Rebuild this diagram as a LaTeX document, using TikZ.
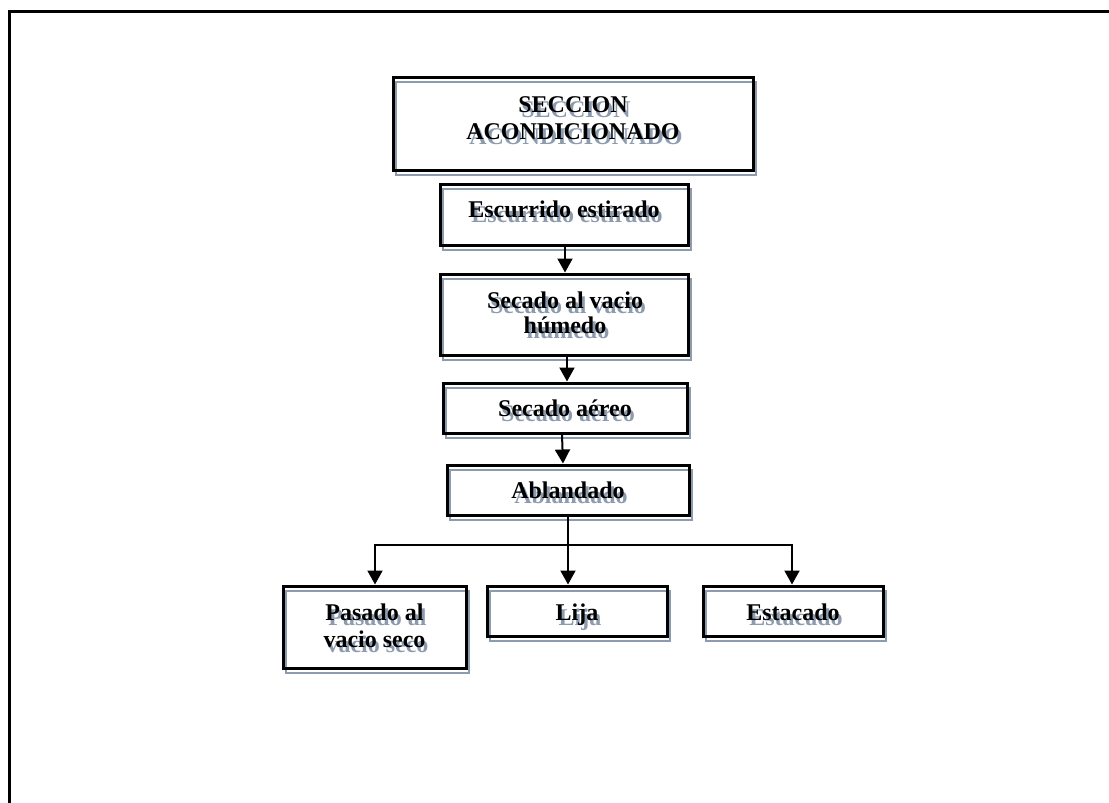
\documentclass[tikz,border=0pt]{standalone}
\usepackage{fontspec}
\setmainfont{Liberation Serif}
\usetikzlibrary{arrows.meta,calc}
\definecolor{shadowc}{RGB}{141,155,175}
% text with a grey offset shadow behind it (the shadow takes no room)
\newcommand\sht[1]{\rlap{\kern3pt\raisebox{-5pt}[0pt][0pt]{\textcolor{shadowc}{#1}}}#1}
\tikzset{
  stepbox/.style={draw=black, line width=3pt, inner sep=0pt,
    preaction={draw=shadowc, line width=2.6pt,
      transform canvas={shift={(3pt,-5pt)}}}},
  boxtext/.style={anchor=base, inner sep=0pt,
    font=\bfseries\fontsize{24}{26}\selectfont},
  flow/.style={line width=2pt, -{Triangle[width=15pt,length=14pt]}},
  link/.style={line width=2pt},
  frame/.style={line width=3pt, line join=miter}
}
\begin{document}
\begin{tikzpicture}[x=1pt,y=-1pt]
\useasboundingbox (0,0) rectangle (1109,803);
\fill[white] (0,0) rectangle (1109,803);
% page frame
\coordinate (fr) at (1109,11);
\coordinate (fc) at (9,11);
\coordinate (fb) at (9,803);
\draw[frame] (fr) -- (fc) -- (fb);

% boxes
\node[stepbox, minimum width=360pt, minimum height=93pt] (title) at (573,123.5) {};
\node[stepbox, minimum width=248pt, minimum height=61pt] (esc) at (564,214.5) {};
\node[stepbox, minimum width=248pt, minimum height=81pt] (vac) at (564,314.5) {};
\node[stepbox, minimum width=244pt, minimum height=50pt] (aer) at (565,408) {};
\node[stepbox, minimum width=242pt, minimum height=50pt] (abl) at (568,490) {};
\node[stepbox, minimum width=183pt, minimum height=82pt] (pas) at (374.5,627) {};
\node[stepbox, minimum width=180pt, minimum height=50pt] (lij) at (577,611) {};
\node[stepbox, minimum width=180pt, minimum height=50pt] (est) at (793,611) {};

% box texts, placed on their baselines
\node[boxtext] (title-a) at (573,112) {\sht{SECCION}};
\node[boxtext] (title-b) at (573,139) {\sht{ACONDICIONADO}};
\node[boxtext] (esc-a) at (564,217) {\sht{Escurrido estirado}};
\node[boxtext] (vac-a) at (565,308) {\sht{Secado al vacio}};
\node[boxtext] (vac-b) at (565,333) {\sht{húmedo}};
\node[boxtext] (aer-a) at (565,416) {\sht{Secado aéreo}};
\node[boxtext] (abl-a) at (568,498) {\sht{Ablandado}};
\node[boxtext] (pas-a) at (374.5,620) {\sht{Pasado al}};
\node[boxtext] (pas-b) at (374.5,647) {\sht{vacio seco}};
\node[boxtext] (lij-a) at (577,620) {\sht{Lija}};
\node[boxtext] (est-a) at (793,620) {\sht{Estacado}};

% straight chain
\draw[flow] ($(esc.south)+(1,0)$) -- ($(vac.north)+(1,0)$);
\draw[flow] ($(vac.south)+(3,0)$) -- ($(aer.north)+(2,0)$);
\draw[flow] ($(aer.south)+(-3,0)$) -- ($(abl.north)+(-5,0)$);

% branching
\coordinate (hub) at (568,545);
\coordinate (hl) at (375,545);
\coordinate (hr) at (792,545);
\draw[link] (abl.south) -- (hub);
\draw[link, line cap=rect] (hl) -- (hr);
\draw[flow] (hl) -- (hl |- pas.north);
\draw[flow] (hub) -- (hub |- lij.north);
\draw[flow] (hr) -- (hr |- est.north);
\end{tikzpicture}
\end{document}
